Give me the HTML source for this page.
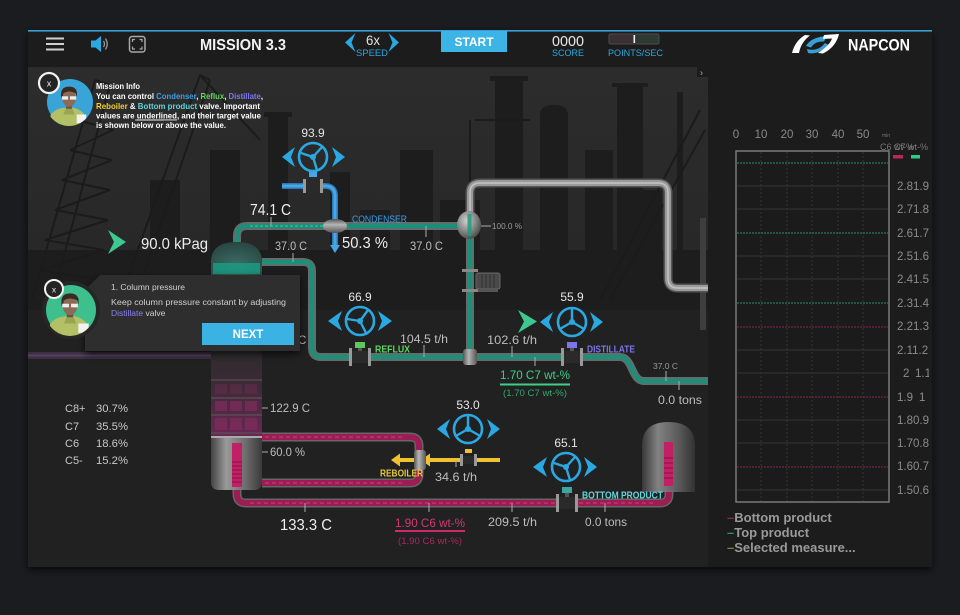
<!DOCTYPE html>
<html><head><meta charset="utf-8">
<style>
html,body{margin:0;padding:0;background:#1b1c1f;width:960px;height:615px;overflow:hidden;}
svg{display:block;}
text{font-family:"Liberation Sans",sans-serif;}
</style></head><body>
<svg width="960" height="615" viewBox="0 0 960 615" xmlns="http://www.w3.org/2000/svg">
<defs>
 <linearGradient id="sky" x1="0" y1="67" x2="0" y2="310" gradientUnits="userSpaceOnUse">
  <stop offset="0" stop-color="#2c2c2c"/><stop offset="0.8" stop-color="#282828"/><stop offset="1" stop-color="#212121"/>
 </linearGradient>
 <filter id="sh" x="-20%" y="-20%" width="140%" height="150%"><feDropShadow dx="0" dy="3" stdDeviation="4" flood-color="#000" flood-opacity="0.7"/></filter>
 <radialGradient id="sph" cx="0.4" cy="0.35" r="0.7"><stop offset="0" stop-color="#d0d0d0"/><stop offset="0.6" stop-color="#808080"/><stop offset="1" stop-color="#444"/></radialGradient>
 <linearGradient id="metal" x1="0" y1="0" x2="1" y2="0"><stop offset="0" stop-color="#444"/><stop offset="0.3" stop-color="#9a9a9a"/><stop offset="0.7" stop-color="#6a6a6a"/><stop offset="1" stop-color="#3a3a3a"/></linearGradient>
 <linearGradient id="tank" x1="0" y1="0" x2="1" y2="0"><stop offset="0" stop-color="#3a3a3a"/><stop offset="0.3" stop-color="#8a8a8a"/><stop offset="0.7" stop-color="#5e5e5e"/><stop offset="1" stop-color="#333"/></linearGradient>
 <linearGradient id="trays" x1="0" y1="0" x2="0" y2="1"><stop offset="0" stop-color="#2c2c2c"/><stop offset="0.4" stop-color="#3e2a37"/><stop offset="1" stop-color="#6a2852"/></linearGradient>
 <radialGradient id="dome" cx="0.5" cy="0.7" r="0.8"><stop offset="0" stop-color="#3d6f68"/><stop offset="1" stop-color="#25403c"/></radialGradient>
 <linearGradient id="junc" x1="0" y1="0" x2="1" y2="0"><stop offset="0" stop-color="#555"/><stop offset="0.4" stop-color="#b5b5b5"/><stop offset="1" stop-color="#555"/></linearGradient>
 <linearGradient id="juncv" x1="0" y1="0" x2="0" y2="1"><stop offset="0" stop-color="#555"/><stop offset="0.4" stop-color="#b5b5b5"/><stop offset="1" stop-color="#555"/></linearGradient>
 <clipPath id="av"><circle cx="0" cy="0" r="24"/></clipPath>
 <clipPath id="rp"><rect x="708" y="67" width="221" height="500"/></clipPath>
 <g id="person" clip-path="url(#av)">
  <path d="M-22,28 L-19,12 Q-13,5 -3,5 L5,5 Q13,7 17,13 L22,28 Z" fill="#b3c066"/>
  <path d="M-3,5 L3,5 L6,12 L-6,12 Z" fill="#98a552"/>
  <rect x="-3" y="0" width="6" height="6" fill="#6e5040"/>
  <ellipse cx="0" cy="-5" rx="7" ry="9" fill="#8c6a55"/>
  <path d="M-8,-5 Q-10,-17 0,-17 Q10,-17 8,-6 L7,-10 Q0,-14 -6,-10 L-7,-3 Z" fill="#3a2a21"/>
  <rect x="-7.5" y="-7" width="6.5" height="3.5" fill="#eee"/>
  <rect x="1" y="-7" width="6.5" height="3.5" fill="#eee"/>
  <rect x="8" y="12" width="10" height="9" fill="#f2f2f2"/>
 </g>
</defs>

<!-- frame -->
<rect x="28" y="30" width="904" height="537" fill="#1d1d1d" filter="url(#sh)"/>
<rect x="28" y="30" width="904" height="1.6" fill="#3a9fd5"/>

<!-- process area -->
<rect x="28" y="67" width="680" height="500" fill="#212121"/>
<rect x="28" y="67" width="680" height="243" fill="url(#sky)"/>

<!-- silhouettes -->
<g fill="#1d1d1d" stroke="none">
 <rect x="28" y="250" width="680" height="60"/>
 <rect x="268" y="115" width="20" height="190"/>
 <rect x="264" y="112" width="28" height="5"/>
 <rect x="330" y="172" width="20" height="130"/>
 <rect x="400" y="150" width="33" height="150"/>
 <rect x="495" y="80" width="28" height="220"/>
 <rect x="490" y="76" width="38" height="5"/>
 <path d="M540,300 V115 Q540,105 554,105 Q568,105 568,115 V300 Z"/>
 <rect x="617" y="86" width="26" height="214"/>
 <rect x="612" y="83" width="36" height="4"/>
 <rect x="677" y="92" width="6" height="208"/>
 <rect x="585" y="150" width="28" height="150"/>
 <rect x="440" y="200" width="40" height="100"/>
 <rect x="360" y="210" width="30" height="90"/>
 <rect x="150" y="180" width="30" height="120"/>
 <rect x="210" y="150" width="30" height="150"/>
 <rect x="640" y="190" width="22" height="110"/>
</g>
<g stroke="#1b1b1b" stroke-width="2" fill="none">
 <path d="M32,300 L95,80 M52,300 L110,85 M95,80 L110,85"/>
 <path d="M40,270 L100,280 M45,240 L104,250 M55,210 L108,220 M62,180 L110,190 M70,150 L112,160 M78,120 L113,130"/>
 <path d="M40,270 L104,250 M45,240 L108,220 M55,210 L110,190 M62,180 L112,160 M70,150 L113,130"/>
 <path d="M120,300 L200,75 M135,300 L210,80 M200,75 L210,80 M200,75 L260,140"/>
 <path d="M470,300 L470,120 M475,120 L530,120 M600,300 L700,110 M610,300 L705,130"/>
</g>
<rect x="700" y="218" width="6" height="112" fill="#3e3e3e"/>
<rect x="697" y="67" width="11" height="10" fill="#1c1c1c"/>
<text x="700" y="75.5" font-size="9" fill="#aaa">›</text>

<!-- header -->
<g stroke="#cfcfcf" stroke-width="2"><line x1="46" y1="38.5" x2="64" y2="38.5"/><line x1="46" y1="44" x2="64" y2="44"/><line x1="46" y1="49.5" x2="64" y2="49.5"/></g>
<polygon points="91,40.5 95.5,40.5 101,36 101,52 95.5,47.5 91,47.5" fill="#2aa8e2"/>
<path d="M103.5,41 Q105.5,44 103.5,47 M105.5,38.5 Q109,44 105.5,49.5" stroke="#999" stroke-width="1.3" fill="none"/>
<rect x="129.5" y="36.5" width="15.5" height="15.5" rx="2.5" fill="none" stroke="#a8a8a8" stroke-width="1.5"/>
<path d="M132.5,42 V39.5 H135 M139.5,39.5 H142 V42 M142,46.5 V49 H139.5 M135,49 H132.5 V46.5" stroke="#a8a8a8" stroke-width="1.2" fill="none"/>
<text x="200" y="50" font-size="16" font-weight="bold" fill="#f2f2f2" textLength="86" lengthAdjust="spacingAndGlyphs">MISSION 3.3</text>
<polygon points="355.5,33 345,42.5 355.5,52 351.5,42.5" fill="#2aa8e2"/>
<polygon points="388.5,33 399,42.5 388.5,52 392.5,42.5" fill="#2aa8e2"/>
<text x="366" y="45" font-size="14" fill="#e0e0e0" textLength="14" lengthAdjust="spacingAndGlyphs">6x</text>
<text x="356" y="56" font-size="9.5" fill="#2aa8e2" textLength="32" lengthAdjust="spacingAndGlyphs">SPEED</text>
<rect x="441" y="31" width="66" height="21" fill="#3cb4e6"/>
<text x="474" y="46" font-size="12" font-weight="bold" fill="#fff" text-anchor="middle">START</text>
<text x="552" y="46" font-size="15" fill="#e8e8e8" textLength="32" lengthAdjust="spacingAndGlyphs">0000</text>
<text x="552" y="56" font-size="9.5" fill="#2aa8e2" textLength="32" lengthAdjust="spacingAndGlyphs">SCORE</text>
<rect x="609" y="34" width="25" height="10" rx="1.5" fill="#3a3033"/>
<rect x="634" y="34" width="25" height="10" rx="1.5" fill="#2e3932"/>
<rect x="609" y="34" width="50" height="10" rx="1.5" fill="none" stroke="#4a4a4a" stroke-width="1"/>
<rect x="633.5" y="35" width="1.6" height="8" fill="#eee"/>
<text x="608" y="56" font-size="9.5" fill="#2aa8e2" textLength="55" lengthAdjust="spacingAndGlyphs">POINTS/SEC</text>
<path d="M792,53 Q795,41 805,35 L810,35.5 Q801,42 799,53 Z" fill="#fff"/>
<path d="M806,46 Q811,37 827,36 L824,41.5 Q815,41 811,47.5 Z" fill="#3a9fd5"/>
<path d="M807,49 Q818,52 825,43 L828,44.5 Q820,55 808,53 Z" fill="#3a9fd5"/>
<path d="M824,35 L839,34 Q836,47 823,53.5 L818,53 Q830,45 832,38.5 L823,39 Z" fill="#fff"/>
<text x="848" y="50.5" font-size="17" font-weight="bold" fill="#fff" textLength="62" lengthAdjust="spacingAndGlyphs">NAPCON</text>

<!-- pipes: gray -->
<g fill="none" stroke-linecap="butt">
 <path d="M470,212 V193 Q470,183 480,183 H658 Q668,183 668,193 V278 Q668,288 678,288 H708" stroke="#555" stroke-width="9"/>
 <path d="M470,212 V193 Q470,183 480,183 H658 Q668,183 668,193 V278 Q668,288 678,288 H708" stroke="#9a9a9a" stroke-width="6"/>
 <path d="M470,212 V193 Q470,183 480,183 H658 Q668,183 668,193 V278 Q668,288 678,288 H708" stroke="#c4c4c4" stroke-width="1.5"/>
</g>
<!-- teal pipes -->
<g fill="none">
 <path id="tp1" d="M237,246 V236 Q237,226 247,226 H458" stroke="#6a6a6a" stroke-width="8"/>
 <path d="M262,262 H303 Q312,262 312,271 V348 Q312,357 321,357 H620 C633,357 631,381 644,381 H708" stroke="#6a6a6a" stroke-width="8"/>
 <path d="M470,238 V357" stroke="#6a6a6a" stroke-width="8"/>
 <path d="M237,246 V236 Q237,226 247,226 H458" stroke="#1c8f79" stroke-width="4.5"/>
 <path d="M262,262 H303 Q312,262 312,271 V348 Q312,357 321,357 H620 C633,357 631,381 644,381 H708" stroke="#1c8f79" stroke-width="4.5"/>
 <path d="M470,238 V357" stroke="#1c8f79" stroke-width="4.5"/>
 <path d="M250,226 H330" stroke="#2fb898" stroke-width="1.5" stroke-dasharray="3,2"/>
</g>
<!-- blue condenser pipe -->
<g fill="none">
 <path d="M282,186 H325 Q335,186 335,196 V246" stroke="#2a78b5" stroke-width="6"/>
 <path d="M282,186 H325 Q335,186 335,196 V246" stroke="#49a6e6" stroke-width="3"/>
</g>
<polygon points="330,245 340,245 335,253" fill="#49a6e6"/>
<!-- pink pipes -->
<g fill="none">
 <path d="M262,437 H410 Q419,437 419,446 V474 Q419,483 410,483 H262" stroke="#666" stroke-width="9"/>
 <path d="M237,488 V494 Q237,503 246,503 H660 Q669,503 669,494 V490" stroke="#666" stroke-width="9"/>
 <path d="M262,437 H410 Q419,437 419,446 V474 Q419,483 410,483 H262" stroke="#9c1c54" stroke-width="6"/>
 <path d="M237,488 V494 Q237,503 246,503 H660 Q669,503 669,494 V490" stroke="#9c1c54" stroke-width="6"/>
 <path d="M265,437 H405 M265,483 H405 M250,503 H655" stroke="#c43070" stroke-width="1.5" stroke-dasharray="4,3"/>
</g>
<!-- dim purple strip -->
<rect x="28" y="352" width="183" height="7" fill="#3c2f44"/>
<rect x="28" y="354.5" width="183" height="2" fill="#56425e"/>
<!-- yellow reboiler steam -->
<path d="M398,460 H500" stroke="#f0c232" stroke-width="4"/>
<polygon points="391,460 400,453.5 400,466.5" fill="#f0c232"/>
<polygon points="421,460 430,453.5 430,466.5" fill="#f0c232"/>
<rect x="414" y="450" width="12" height="20" rx="3" fill="url(#junc)"/>

<!-- column -->
<path d="M211,482 V262 Q211,242 236.5,242 Q262,242 262,262 V482 Q262,490 254,490 H219 Q211,490 211,482 Z" fill="#2a2a2a"/>
<path d="M211,276 V262 Q211,242 236.5,242 Q262,242 262,262 V276 Z" fill="url(#dome)"/>
<rect x="213" y="263" width="47" height="11" fill="#1a9a82" opacity="0.85"/>
<rect x="211" y="351" width="51" height="87" fill="url(#trays)"/>
<g stroke="#5a5a5a" stroke-width="1"><line x1="211" y1="380" x2="262" y2="380"/><line x1="211" y1="398" x2="262" y2="398"/><line x1="211" y1="415" x2="262" y2="415"/><line x1="211" y1="433" x2="262" y2="433"/></g>
<g fill="#8a2e64" opacity="0.55"><rect x="215" y="401" width="12" height="10"/><rect x="230" y="401" width="12" height="10"/><rect x="245" y="401" width="12" height="10"/><rect x="215" y="418" width="12" height="12"/><rect x="230" y="418" width="12" height="12"/><rect x="245" y="418" width="12" height="12"/><rect x="215" y="384" width="12" height="10" opacity="0.5"/><rect x="230" y="384" width="12" height="10" opacity="0.5"/><rect x="245" y="384" width="12" height="10" opacity="0.5"/></g>
<path d="M211,437 H262 V482 Q262,490 254,490 H219 Q211,490 211,482 Z" fill="url(#metal)"/>
<rect x="211" y="436" width="51" height="2" fill="#aaa"/>
<rect x="232" y="443" width="10" height="44" fill="#c22066"/>
<g stroke="#861040" stroke-width="1"><line x1="232" y1="462" x2="242" y2="462"/><line x1="232" y1="466" x2="242" y2="466"/><line x1="232" y1="470" x2="242" y2="470"/><line x1="232" y1="474" x2="242" y2="474"/><line x1="232" y1="478" x2="242" y2="478"/><line x1="232" y1="482" x2="242" y2="482"/></g>

<!-- tank -->
<path d="M642,492 V446 Q642,422 668.5,422 Q695,422 695,446 V492 Z" fill="url(#tank)" opacity="0.92"/>
<rect x="664" y="442" width="9" height="44" fill="#c22066"/>
<g stroke="#861040" stroke-width="1"><line x1="664" y1="458" x2="673" y2="458"/><line x1="664" y1="463" x2="673" y2="463"/><line x1="664" y1="468" x2="673" y2="468"/><line x1="664" y1="473" x2="673" y2="473"/><line x1="664" y1="478" x2="673" y2="478"/></g>

<!-- sphere accumulator / junctions -->
<ellipse cx="469" cy="225" rx="12" ry="14" fill="url(#sph)"/>
<rect x="467.5" y="214" width="4" height="22" fill="#1c9c80" opacity="0.85"/>
<ellipse cx="335" cy="226" rx="12" ry="7" fill="url(#juncv)"/>
<rect x="463" y="349" width="14" height="16" rx="3" fill="url(#junc)"/>
<!-- pump -->
<rect x="462" y="269" width="16" height="3" fill="#888"/>
<rect x="462" y="289" width="16" height="3" fill="#888"/>
<rect x="476" y="273" width="24" height="16" rx="2" fill="#4a4a4a" stroke="#666" stroke-width="1"/>
<g stroke="#333" stroke-width="1"><line x1="482" y1="274" x2="482" y2="288"/><line x1="486" y1="274" x2="486" y2="288"/><line x1="490" y1="274" x2="490" y2="288"/><line x1="494" y1="274" x2="494" y2="288"/></g>
<rect x="478" y="289" width="20" height="3" fill="#555"/>

<!-- valves -->
<g>
 <rect x="303" y="179" width="3" height="14" fill="#999"/><rect x="320" y="179" width="3" height="14" fill="#999"/>
 <rect x="306" y="181" width="14" height="10" fill="#2a2a2a"/><rect x="309" y="171" width="8" height="6" fill="#49a6e6"/>
 <rect x="349" y="348" width="3" height="18" fill="#999"/><rect x="368" y="348" width="3" height="18" fill="#999"/>
 <rect x="352" y="351" width="16" height="12" fill="#2a2a2a"/><rect x="355" y="342" width="10" height="6" fill="#5bc85b"/><rect x="358" y="348" width="4" height="3" fill="#555"/>
 <rect x="561" y="348" width="3" height="18" fill="#999"/><rect x="580" y="348" width="3" height="18" fill="#999"/>
 <rect x="564" y="351" width="16" height="12" fill="#2a2a2a"/><rect x="567" y="342" width="10" height="6" fill="#7d74ea"/><rect x="570" y="348" width="4" height="3" fill="#555"/>
 <rect x="460" y="454" width="3" height="12" fill="#999"/><rect x="474" y="454" width="3" height="12" fill="#999"/>
 <rect x="463" y="456" width="11" height="8" fill="#2a2a2a"/><rect x="465" y="449" width="7" height="4" fill="#f0c232"/>
 <rect x="556" y="494" width="3" height="18" fill="#999"/><rect x="575" y="494" width="3" height="18" fill="#999"/>
 <rect x="559" y="497" width="16" height="12" fill="#2a2a2a"/><rect x="562" y="487" width="10" height="6" fill="#3aa8a0"/><rect x="565" y="493" width="4" height="4" fill="#555"/>
</g>

<!-- wheels -->
<g fill="#2aa8e2" stroke="#2aa8e2">
 <g transform="translate(313,157)"><circle r="14" fill="none" stroke-width="2.6"/><circle r="3" stroke="none"/><path d="M0,0 L-12,-4 M0,0 L9,-10 M0,0 L4,13" stroke-width="2.4" fill="none"/><polygon stroke="none" points="-18,-10 -31,0 -18,10 -22,0"/><polygon stroke="none" points="19,-10 32,0 19,10 23,0"/></g>
 <g transform="translate(360,321)"><circle r="14" fill="none" stroke-width="2.6"/><circle r="3" stroke="none"/><path d="M0,0 L-13,-2 M0,0 L8,-11 M0,0 L6,12" stroke-width="2.4" fill="none"/><polygon stroke="none" points="-18,-10 -32,0 -18,10 -22,0"/><polygon stroke="none" points="18,-10 32,0 18,10 22,0"/></g>
 <g transform="translate(572,322)"><circle r="14" fill="none" stroke-width="2.6"/><circle r="3" stroke="none"/><path d="M0,0 L0,-13 M0,0 L11.3,6.5 M0,0 L-11.3,6.5" stroke-width="2.4" fill="none"/><polygon stroke="none" points="-19,-10 -32,0 -19,10 -23,0"/><polygon stroke="none" points="18,-10 31,0 18,10 22,0"/></g>
 <g transform="translate(468,429)"><circle r="14" fill="none" stroke-width="2.6"/><circle r="3" stroke="none"/><path d="M0,0 L0,-13 M0,0 L11.3,6.5 M0,0 L-11.3,6.5" stroke-width="2.4" fill="none"/><polygon stroke="none" points="-18,-10 -31,0 -18,10 -22,0"/><polygon stroke="none" points="19,-10 32,0 19,10 23,0"/></g>
 <g transform="translate(566,467)"><circle r="14" fill="none" stroke-width="2.6"/><circle r="3" stroke="none"/><path d="M0,0 L-12,-4 M0,0 L9,-10 M0,0 L4,13" stroke-width="2.4" fill="none"/><polygon stroke="none" points="-19,-10 -33,0 -19,10 -23,0"/><polygon stroke="none" points="18,-10 31,0 18,10 22,0"/></g>
</g>
<polygon points="108,230 126,242 108,254 114,242" fill="#3cc890"/>
<polygon points="518,310 537,321.5 518,333 524,321.5" fill="#3cc890"/>

<!-- ticks -->
<g stroke="#aaa" stroke-width="1">
 <line x1="271" y1="217" x2="271" y2="226"/><line x1="293" y1="253" x2="293" y2="262"/><line x1="426" y1="226" x2="426" y2="237"/>
 <line x1="481" y1="226" x2="491" y2="226"/><line x1="424" y1="345" x2="424" y2="357"/><line x1="512" y1="346" x2="512" y2="357"/>
 <line x1="535" y1="357" x2="535" y2="366"/><line x1="666" y1="371" x2="666" y2="381"/><line x1="679" y1="381" x2="679" y2="390"/>
 <line x1="262" y1="408" x2="268" y2="408"/><line x1="262" y1="452" x2="268" y2="452"/><line x1="456" y1="460" x2="456" y2="467"/>
 <line x1="305" y1="503" x2="305" y2="512"/><line x1="429" y1="503" x2="429" y2="512"/><line x1="512" y1="503" x2="512" y2="512"/><line x1="605" y1="503" x2="605" y2="512"/>
</g>

<!-- labels -->
<g fill="#e6e6e6" font-size="12" text-anchor="middle">
 <text x="313" y="137">93.9</text><text x="360" y="301">66.9</text><text x="572" y="301">55.9</text><text x="468" y="409">53.0</text><text x="566" y="447">65.1</text>
</g>
<g fill="#ededed" font-size="16">
 <text x="250" y="215" textLength="41" lengthAdjust="spacingAndGlyphs">74.1 C</text>
 <text x="342" y="248" textLength="46" lengthAdjust="spacingAndGlyphs">50.3 %</text>
 <text x="141" y="249" textLength="67" lengthAdjust="spacingAndGlyphs">90.0 kPag</text>
 <text x="280" y="530" textLength="52" lengthAdjust="spacingAndGlyphs">133.3 C</text>
</g>
<g fill="#bdbdbd" font-size="11.5">
 <text x="275" y="250" textLength="32" lengthAdjust="spacingAndGlyphs">37.0 C</text>
 <text x="410" y="250" textLength="33" lengthAdjust="spacingAndGlyphs">37.0 C</text>
 <text x="298" y="344">C</text>
 <text x="400" y="343" font-size="12" textLength="48" lengthAdjust="spacingAndGlyphs">104.5 t/h</text>
 <text x="487" y="344" font-size="12" textLength="50" lengthAdjust="spacingAndGlyphs">102.6 t/h</text>
 <text x="658" y="404" font-size="12" textLength="44" lengthAdjust="spacingAndGlyphs">0.0 tons</text>
 <text x="270" y="412" font-size="12" textLength="40" lengthAdjust="spacingAndGlyphs">122.9 C</text>
 <text x="270" y="456" font-size="12" textLength="35" lengthAdjust="spacingAndGlyphs">60.0 %</text>
 <text x="435" y="481" font-size="12" textLength="42" lengthAdjust="spacingAndGlyphs">34.6 t/h</text>
 <text x="488" y="526" font-size="12" textLength="49" lengthAdjust="spacingAndGlyphs">209.5 t/h</text>
 <text x="585" y="526" font-size="12" textLength="42" lengthAdjust="spacingAndGlyphs">0.0 tons</text>
</g>
<g fill="#9a9a9a" font-size="8.5">
 <text x="492" y="229" textLength="30" lengthAdjust="spacingAndGlyphs">100.0 %</text>
 <text x="653" y="369" textLength="25" lengthAdjust="spacingAndGlyphs">37.0 C</text>
</g>
<g font-size="10" font-weight="bold">
 <text x="352" y="222.5" fill="#3b9ee6" font-weight="normal" textLength="55" lengthAdjust="spacingAndGlyphs">CONDENSER</text>
 <text x="375" y="352.5" fill="#5ed65e" textLength="35" lengthAdjust="spacingAndGlyphs">REFLUX</text>
 <text x="587" y="352.5" fill="#7d74ea" textLength="48" lengthAdjust="spacingAndGlyphs">DISTILLATE</text>
 <text x="380" y="476.5" fill="#e2c83c" textLength="43" lengthAdjust="spacingAndGlyphs">REBOILER</text>
 <text x="582" y="498.5" fill="#63d3dc" textLength="81" lengthAdjust="spacingAndGlyphs">BOTTOM PRODUCT</text>
</g>
<text x="500" y="379" font-size="12" fill="#3ccf86" textLength="70" lengthAdjust="spacingAndGlyphs">1.70 C7 wt-%</text>
<rect x="500" y="383.5" width="70" height="2" fill="#3ccf86"/>
<text x="503" y="396" font-size="9.5" fill="#2fa86c" textLength="64" lengthAdjust="spacingAndGlyphs">(1.70 C7 wt-%)</text>
<text x="395" y="527" font-size="12" fill="#d23a74" textLength="70" lengthAdjust="spacingAndGlyphs">1.90 C6 wt-%</text>
<rect x="395" y="530" width="70" height="2" fill="#d0286a"/>
<text x="398" y="544" font-size="9.5" fill="#a8285a" textLength="64" lengthAdjust="spacingAndGlyphs">(1.90 C6 wt-%)</text>

<!-- composition -->
<g fill="#c8c8c8" font-size="11">
 <text x="65" y="412">C8+</text><text x="96" y="412" textLength="32" lengthAdjust="spacingAndGlyphs">30.7%</text>
 <text x="65" y="430">C7</text><text x="96" y="430" textLength="32" lengthAdjust="spacingAndGlyphs">35.5%</text>
 <text x="65" y="447">C6</text><text x="96" y="447" textLength="32" lengthAdjust="spacingAndGlyphs">18.6%</text>
 <text x="65" y="464">C5-</text><text x="96" y="464" textLength="32" lengthAdjust="spacingAndGlyphs">15.2%</text>
</g>

<!-- mission info -->
<circle cx="70" cy="102" r="23" fill="#38a4d8"/>
<use href="#person" transform="translate(69,103) scale(0.96)"/>
<circle cx="49" cy="83" r="10" fill="#242424" stroke="#f2f2f2" stroke-width="2.2"/>
<text x="49" y="86.5" font-size="9" fill="#eee" text-anchor="middle">x</text>
<g font-size="8.5" font-weight="bold" fill="#fff">
 <text x="96" y="89" textLength="44" lengthAdjust="spacingAndGlyphs">Mission Info</text>
 <text x="96" y="99" textLength="167" lengthAdjust="spacingAndGlyphs">You can control <tspan fill="#3b9ee6">Condenser</tspan>, <tspan fill="#5ed65e">Reflux</tspan>, <tspan fill="#8077ee">Distillate</tspan>,</text>
 <text x="96" y="109" textLength="164" lengthAdjust="spacingAndGlyphs"><tspan fill="#f0d030">Reboiler</tspan> &amp; <tspan fill="#5fd5dd">Bottom product</tspan> valve. Important</text>
 <text x="96" y="118.5" textLength="165" lengthAdjust="spacingAndGlyphs">values are <tspan text-decoration="underline">underlined</tspan>, and their target value</text>
 <text x="96" y="128" textLength="130" lengthAdjust="spacingAndGlyphs">is shown below or above the value.</text>
</g>
<line x1="135" y1="120" x2="164" y2="120" stroke="#fff" stroke-width="0.8"/>

<!-- popup 2 -->
<path d="M100,275 H300 V351 H85 V290 Z" fill="#2e2e2e" filter="url(#sh)"/>
<circle cx="71" cy="310" r="29" fill="#262626"/>
<circle cx="71" cy="310" r="25" fill="#3dbf8e"/>
<use href="#person" transform="translate(70,311) scale(1.04)"/>
<circle cx="54" cy="289" r="9" fill="#242424" stroke="#f2f2f2" stroke-width="2"/>
<text x="54" y="292.5" font-size="8.5" fill="#eee" text-anchor="middle">x</text>
<text x="111" y="290" font-size="8.5" fill="#d0d0d0" textLength="74" lengthAdjust="spacingAndGlyphs">1. Column pressure</text>
<text x="111" y="305" font-size="8.5" fill="#d0d0d0" textLength="175" lengthAdjust="spacingAndGlyphs">Keep column pressure constant by adjusting</text>
<text x="111" y="316" font-size="8.5" fill="#d0d0d0"><tspan fill="#8a80f0">Distillate</tspan> valve</text>
<rect x="202" y="323" width="92" height="22" fill="#3ab2e4"/>
<text x="248" y="338" font-size="11.5" font-weight="bold" fill="#fff" text-anchor="middle">NEXT</text>

<!-- right panel chart -->
<g fill="#8a8a8a" font-size="11.5" text-anchor="middle">
 <text x="736" y="138">0</text><text x="761" y="138">10</text><text x="787" y="138">20</text><text x="812" y="138">30</text><text x="838" y="138">40</text><text x="863" y="138">50</text>
</g>
<text x="882" y="137" font-size="5" fill="#777">min</text>
<rect x="736" y="151" width="153" height="351" fill="#1b1b1b" stroke="#7a7a7a" stroke-width="1.5"/>
<g stroke="#343434" stroke-width="1" stroke-dasharray="2,2">
 <line x1="761" y1="152" x2="761" y2="501"/><line x1="787" y1="152" x2="787" y2="501"/><line x1="812" y1="152" x2="812" y2="501"/><line x1="838" y1="152" x2="838" y2="501"/><line x1="863" y1="152" x2="863" y2="501"/>
</g>
<g stroke="#363636" stroke-width="1">
 <line x1="737" y1="186" x2="888" y2="186"/><line x1="737" y1="209" x2="888" y2="209"/><line x1="737" y1="256" x2="888" y2="256"/><line x1="737" y1="279" x2="888" y2="279"/><line x1="737" y1="350" x2="888" y2="350"/><line x1="737" y1="373" x2="888" y2="373"/><line x1="737" y1="420" x2="888" y2="420"/><line x1="737" y1="443" x2="888" y2="443"/><line x1="737" y1="490" x2="888" y2="490"/>
</g>
<g stroke="#2b8f6c" stroke-width="1" stroke-dasharray="2,1"><line x1="737" y1="163" x2="888" y2="163"/><line x1="737" y1="233" x2="888" y2="233"/><line x1="737" y1="303" x2="888" y2="303"/></g>
<g stroke="#8b2652" stroke-width="1" stroke-dasharray="2,1"><line x1="737" y1="327" x2="888" y2="327"/><line x1="737" y1="397" x2="888" y2="397"/><line x1="737" y1="467" x2="888" y2="467"/></g>
<g clip-path="url(#rp)">
 <g fill="#8c8c8c" font-size="11.5">
  <text x="897" y="190">2.81.9</text><text x="897" y="213">2.71.8</text><text x="897" y="237">2.61.7</text><text x="897" y="260">2.51.6</text><text x="897" y="283">2.41.5</text><text x="897" y="307">2.31.4</text><text x="897" y="330">2.21.3</text><text x="897" y="354">2.11.2</text>
  <text x="903" y="377">2</text><text x="915" y="377">1.1</text><text x="897" y="401">1.9</text><text x="919" y="401">1</text>
  <text x="897" y="424">1.80.9</text><text x="897" y="447">1.70.8</text><text x="897" y="470">1.60.7</text><text x="897" y="494">1.50.6</text>
 </g>
 <text x="880" y="150" font-size="9" fill="#777">C6 wt-%</text>
 <text x="894" y="150" font-size="9" fill="#777">C7 wt-%</text>
 <rect x="893" y="155" width="10" height="3.5" fill="#c0245e"/>
 <rect x="911" y="155" width="9" height="3.5" fill="#2ecc8a"/>
</g>
<g font-size="13" font-weight="bold" fill="#9a9a9a">
 <text x="727" y="522"><tspan fill="#8b2652">–</tspan>Bottom product</text>
 <text x="727" y="537"><tspan fill="#2b8f6c">–</tspan>Top product</text>
 <text x="727" y="552"><tspan fill="#8a7a30">–</tspan>Selected measure...</text>
</g>
</svg>
</body></html>
